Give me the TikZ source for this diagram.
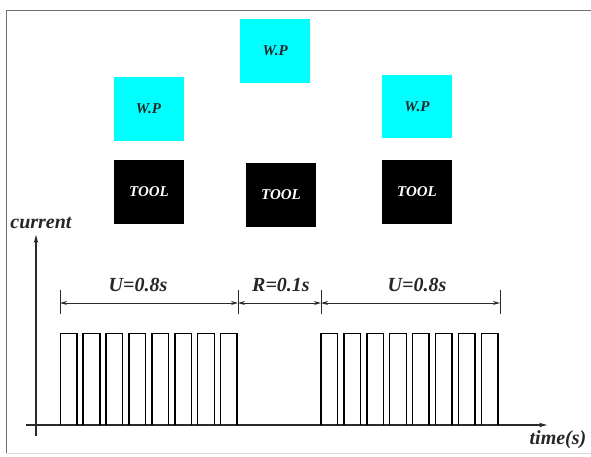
\documentclass[tikz,border=0pt]{standalone}
\usepackage{fontspec}
\setmainfont{Liberation Serif}
\usetikzlibrary{arrows.meta}
\definecolor{wpcyan}{HTML}{00FFFF}
\definecolor{linegray}{HTML}{2A2A2A}
\definecolor{framegray}{HTML}{707070}
\begin{document}
\begin{tikzpicture}[x=1pt,y=-1pt,
  wpbox/.style={fill=wpcyan, minimum width=70pt, minimum height=64pt, inner sep=0pt,
    font=\fontsize{15}{17}\selectfont\bfseries\itshape, text=black!85},
  toolbox/.style={fill=black, minimum width=70pt, minimum height=64pt, inner sep=0pt,
    font=\fontsize{15}{17}\selectfont\bfseries\itshape, text=white},
  biglabel/.style={font=\fontsize{20}{22}\selectfont\bfseries\itshape, text=black!85, inner sep=0pt},
  axisline/.style={draw=linegray, line width=1.2pt, -{Stealth[length=8pt,width=4.5pt]}},
  dimline/.style={draw=linegray, line width=1pt, {Stealth[length=7pt,width=4pt]}-{Stealth[length=7pt,width=4pt]}},
  tickline/.style={draw=linegray, line width=1pt},
  pulse/.style={draw=black, line width=1.5pt, line join=miter}
]
\useasboundingbox (0,0) rectangle (591,456);
\fill[white] (0,0) rectangle (591,456);
\draw[framegray, line width=1pt] (591,10) -- (6,10) -- (6,454);
\draw[black!15, line width=0.8pt] (6,453) -- (591,453);

% work pieces and tools
\node[wpbox] (wp1) at (148.5,109) {W.P};
\node[wpbox] (wp2) at (275.3,51) {W.P};
\node[wpbox, minimum height=63pt] (wp3) at (417,106.5) {W.P};
\node[toolbox] (tool1) at (149,192) {\raisebox{-1pt}{TOOL}};
\node[toolbox] (tool2) at (281,195) {\raisebox{-1pt}{TOOL}};
\node[toolbox] (tool3) at (417,192) {\raisebox{-4pt}{TOOL}};

% axes
\coordinate (ybot) at (36,436);
\coordinate (ytop) at (36,235);
\coordinate (xleft) at (26,425);
\coordinate (xright) at (547,425);
\draw[axisline] (ybot) -- (ytop);
\draw[axisline] (xleft) -- (xright);
\node[biglabel] (cur) at (41,223) {current};
\node[biglabel] (tim) at (558,440) {time(s)};

% dimension ticks
\foreach \n/\x in {a/60,b/238,c/321,d/500}{
  \coordinate (\n top) at (\x,290);
  \coordinate (\n bot) at (\x,314);
  \coordinate (\n) at (\x,303);
  \draw[tickline] (\n top) -- (\n bot);
}
\draw[dimline] (a) -- (b);
\draw[dimline] (b) -- (c);
\draw[dimline] (c) -- (d);
\node[biglabel] (u1) at (138,285) {U=0.8s};
\node[biglabel] (r1) at (281,285) {R=0.1s};
\node[biglabel] (u2) at (417,285) {U=0.8s};

% pulses
\foreach \g in {60.3,321}{
  \foreach \i in {0,...,7}{
    \draw[pulse] (\g+\i*22.9,425) -- ++(0,-91.7) -- ++(16.6,0) -- ++(0,91.7);
  }
}
\end{tikzpicture}
\end{document}
